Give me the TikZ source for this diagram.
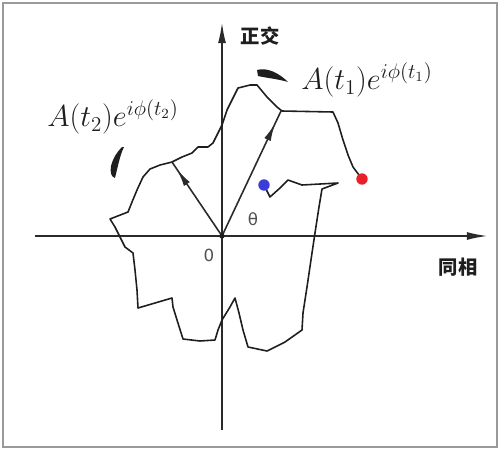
\documentclass[tikz,border=0pt]{standalone}
\usepackage{fontspec}
\usepackage{tikz}
\usetikzlibrary{arrows.meta,decorations.markings}
\newfontfamily\cjk{Noto Sans CJK SC}
\newfontfamily\dejavu{DejaVu Sans}
\definecolor{framec}{HTML}{9A9A9A}
\definecolor{axisc}{HTML}{2A2A2A}
\definecolor{inkc}{HTML}{1E1E1E}
\definecolor{labelc}{HTML}{505050}
\definecolor{dotred}{HTML}{E8202A}
\definecolor{dotblue}{HTML}{3C3CD8}

\begin{document}
\begin{tikzpicture}[x=0.02cm, y=-0.02cm,
    axis/.style={line width=1.1pt, axisc, -{Latex[length=12pt, width=4.5pt]}},
    trace/.style={line width=0.9pt, inkc, line join=round},
    vec/.style={line width=0.9pt, axisc, postaction={decorate},
      decoration={markings, mark=at position 0.9 with {\arrow{Latex[length=10pt, width=4pt]}}}},
    dot/.style={circle, inner sep=0pt, minimum size=6.5pt},
    cjklab/.style={font=\cjk\bfseries\fontsize{11}{13}\selectfont, inkc},
    small/.style={font=\dejavu\fontsize{9.5}{11}\selectfont, labelc}]
    \useasboundingbox (0,0) rectangle (500,450);
    \draw[framec, line width=1.2pt] (3,3) rectangle (497,447);
    % axes
    \coordinate (o) at (222,236);
    \coordinate (xs) at (35,236);
    \coordinate (xe) at (488,236);
    \coordinate (ys) at (222,430);
    \coordinate (ye) at (222,22);
    \draw[axis] (xs) -- (xe);
    \draw[axis] (ys) -- (ye);
    \node[cjklab] (quad) at (260,36) {正交};
    \node[cjklab] (inph) at (458,267) {同相};
    \node[small] (zero) at (209,255) {0};
    \node[small] (theta) at (253,219) {θ};
    % trajectory
    \draw[trace] (264,185) -- (270,197) -- (280,188) -- (288,180) -- (302,185)
      -- (338,183) -- (322,189) -- (319,207) -- (315,233) -- (312,253)
      -- (307,287) -- (303,313) -- (302,330) -- (285,342) -- (267,351)
      -- (248,347) -- (243,330) -- (239,313) -- (235,298) -- (230,307)
      -- (222,320) -- (218,330) -- (215,340) -- (200,341) -- (183,339)
      -- (177,320) -- (173,307) -- (172,298) -- (138,308) -- (137,290)
      -- (135,270) -- (133,253) -- (125,247) -- (120,237) -- (115,227)
      -- (110,219) -- (128,212) -- (132,202) -- (137,190) -- (143,177)
      -- (150,169) -- (160,165) -- (172,162) -- (182,157) -- (192,153)
      -- (198,147) -- (208,147) -- (213,143) -- (218,133) -- (222,125)
      -- (227,110) -- (232,100) -- (238,88) -- (250,85) -- (257,85)
      -- (267,97) -- (277,107) -- (282,111) -- (333,112) -- (338,123)
      -- (343,140) -- (348,155) -- (353,167) -- (362,179);
    \node[dot, fill=dotred] (tend) at (362,179) {};
    \node[dot, fill=dotblue] (tstart) at (264,185) {};
    % phasors
    \coordinate (p1) at (281,111);
    \coordinate (p2) at (172,162);
    \draw[vec] (o) -- (p1);
    \draw[vec] (o) -- (p2);
    \fill[inkc] (o) circle (1.5pt);
    \node[font=\fontsize{17}{20}\selectfont, inkc] (lab1) at (367,80) {$A(t_1)e^{i\phi(t_1)}$};
    \node[font=\fontsize{17}{20}\selectfont, inkc] (lab2) at (113,117) {$A(t_2)e^{i\phi(t_2)}$};
    % rotation marks
    \fill[inkc] (257,70) .. controls (267,67) and (279,73) .. (288,82)
      .. controls (278,79) and (267,78) .. (258,76) -- cycle;
    \fill[inkc] (124,147) .. controls (120,155) and (118,166) .. (115,178)
      .. controls (111,177) and (110,172) .. (111,166)
      .. controls (113,158) and (117,152) .. (122,147) -- cycle;
  \end{tikzpicture}
\end{document}
